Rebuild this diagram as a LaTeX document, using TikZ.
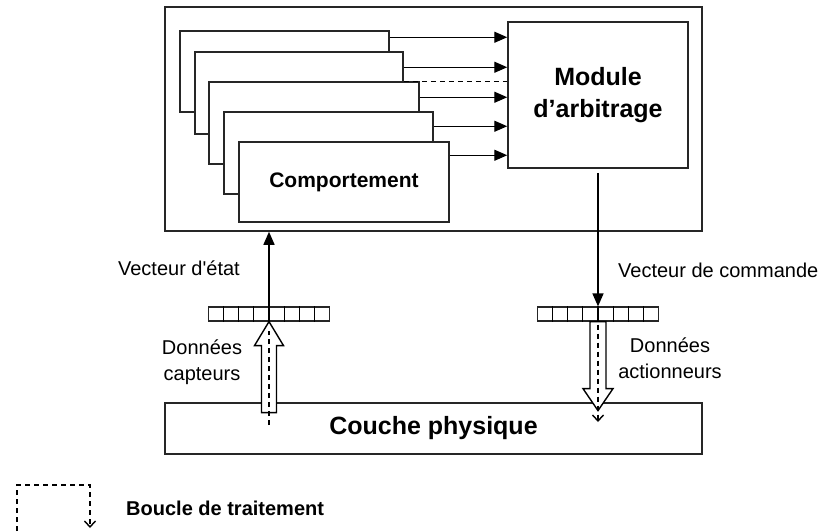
\documentclass[tikz,border=0pt]{standalone}
\usepackage{fontspec}
\setmainfont{Liberation Sans}
\usetikzlibrary{arrows.meta,calc}
\begin{document}
\begin{tikzpicture}[x=1pt,y=-1pt,
  box/.style={draw=black!85,line width=1.5pt,fill=white,inner sep=0pt},
  arr/.style={line width=1.4pt,-{Triangle[length=13pt,width=11pt]}},
  dsh/.style={line width=1.4pt,dash pattern=on 5pt off 4pt},
  barb/.style={-{Straight Barb[length=6pt,width=11pt,line width=1.4pt]}},
  lbl/.style={font=\fontsize{20}{26}\selectfont,align=center,inner sep=0pt},
  hollow/.style={line width=1.4pt,fill=white,line join=miter}]
\useasboundingbox[fill=white] (0,0) rectangle (832,531);
% outer frame
\node[box,minimum width=537pt,minimum height=224pt] (outer) at (433.5,119) {};
% stacked behaviour boxes
\node[box,minimum width=209pt,minimum height=81pt] (b1) at (284.5,71.5) {};
\node[box,minimum width=208pt,minimum height=82pt] (b2) at (299,93) {};
\node[box,minimum width=210pt,minimum height=82pt] (b3) at (314,123) {};
\node[box,minimum width=209pt,minimum height=82pt] (b4) at (328.5,153) {};
\node[box,minimum width=210pt,minimum height=80pt,font=\fontsize{21}{26}\selectfont\bfseries] (b5) at (344,182) {Comportement};
% arbitration module
\node[box,minimum width=180pt,minimum height=146pt,align=center,font=\fontsize{25}{32}\selectfont\bfseries] (m) at (598,95) {Module\\d’arbitrage};
% arrows to module
\foreach \b/\o in {b1/7,b2/16,b3/16,b4/15,b5/14}
  \draw[arr] ([yshift=-\o pt]\b.north east) coordinate (s) -- (s -| m.west);
\draw[dsh] (b2.east |- b3.north) -- (m.west |- b3.north);
% vectors
\node[box,line width=1.2pt,minimum width=121pt,minimum height=14pt] (vl) at (269,314) {};
\node[box,line width=1.2pt,minimum width=121pt,minimum height=14pt] (vr) at (598,314) {};
\foreach \v in {vl,vr}
  \foreach \i in {1,...,7}
    \draw[line width=1.1pt] ($(\v.south west)!\i/8!(\v.south east)$) -- ($(\v.north west)!\i/8!(\v.north east)$);
\draw[arr] (vl.north) -- (vl.north |- outer.south);
\draw[arr] ([yshift=-4pt]m.south) -- (vr.north);
% physical layer
\node[box,minimum width=537pt,minimum height=51pt,font=\fontsize{25}{30}\selectfont\bfseries] (c) at (433.5,428.5) {Couche physique};
% hollow arrows
\draw[hollow] (vl.south) -- ++(14.5,24) -- ++(-7,0) -- ++(0,67) -- ++(-15,0) -- ++(0,-67) -- ++(-7,0) -- cycle;
\draw[dsh] (vl.south |- 0,425) -- ([yshift=-9pt]vl.south);
\draw[hollow] ([xshift=-8pt]vr.south) -- ++(0,67) -- ++(-7,0) -- ++(15,22) -- ++(15,-22) -- ++(-7,0) -- ++(0,-67) -- cycle;
\draw[dsh,barb] ([yshift=-3pt]vr.south) -- (vr.south |- 0,422);
% labels
\node[lbl,anchor=east] (ve) at (240,268) {Vecteur d\textquotesingle état};
\node[lbl] (dc) at (202,362) {Données\\capteurs};
\node[lbl,anchor=west] (vc) at (618,270) {Vecteur de commande};
\node[lbl] (da) at (670,358) {Données\\actionneurs};
% legend
\coordinate (l0) at (17,531);
\coordinate (l1) at (17,485);
\coordinate (l2) at (90,485);
\coordinate (l3) at (90,528);
\draw[dsh,barb] (l0) -- (l1) -- (l2) -- (l3);
\node[anchor=west,inner sep=0pt,font=\fontsize{20}{24}\selectfont\bfseries] (leg) at (126,508) {Boucle de traitement};
\end{tikzpicture}
\end{document}
